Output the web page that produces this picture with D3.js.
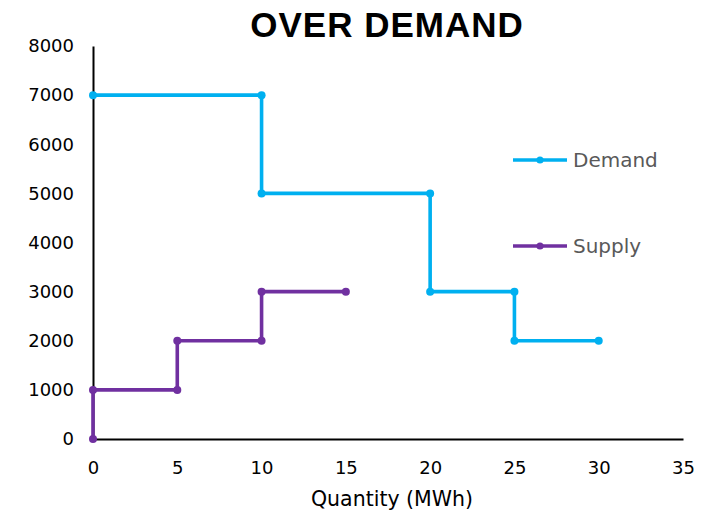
<!DOCTYPE html>
<html><head><meta charset="utf-8">
<script src="https://cdn.jsdelivr.net/npm/d3@7"></script>
<style>body{margin:0;background:#fff}</style>
</head><body>
<svg id="c" width="724" height="513"></svg>
<script>
const demandX = [0, 10, 10, 20, 20, 25, 25, 30];
const demandY = [7000, 7000, 5000, 5000, 3000, 3000, 2000, 2000];
const supplyX = [0, 0, 5, 5, 10, 10, 15];
const supplyY = [0, 1000, 1000, 2000, 2000, 3000, 3000];
const xTicks = [0, 5, 10, 15, 20, 25, 30, 35];
const yTicks = [0, 1000, 2000, 3000, 4000, 5000, 6000, 7000, 8000];
const seriesNames = ["Demand", "Supply"];
const colors = ["#00B0F0", "#7030A0"];

const svg = d3.select("#c");
const x = d3.scaleLinear().domain([0, 35]).range([93, 683]);
const y = d3.scaleLinear().domain([0, 8000]).range([439, 46]);

// title
svg.append("text").attr("x", 387).attr("y", 37).attr("text-anchor", "middle")
  .attr("font-family", "Liberation Sans, Arial, sans-serif").attr("font-weight", "bold")
  .attr("font-size", 35).attr("letter-spacing", 1).attr("fill", "#000").text("OVER DEMAND");

// axes
const xAxis = svg.append("g").attr("transform", `translate(0,${y(0)})`)
  .call(d3.axisBottom(x).tickValues(xTicks).tickFormat(d3.format("d")).tickSize(0).tickPadding(22));
const yAxis = svg.append("g").attr("transform", `translate(${x(0)},0)`)
  .call(d3.axisLeft(y).tickValues(yTicks).tickFormat(d3.format("d")).tickSize(0).tickPadding(19));
[xAxis, yAxis].forEach(a => {
  a.attr("font-size", 18).attr("font-family", "DejaVu Sans, sans-serif");
  a.select(".domain").attr("stroke", "#000").attr("stroke-width", 2);
  a.selectAll("text").style("font-family", "DejaVu Sans, sans-serif").style("font-size", "18px").attr("fill", "#000");
});
xAxis.selectAll("text").attr("dy", "0.71em");

svg.append("text").attr("x", 392).attr("y", 506).attr("text-anchor", "middle")
  .style("font-family", "DejaVu Sans, sans-serif").style("font-size", "20.5px").attr("fill", "#000")
  .text("Quantity (MWh)");

const series = [
  {name: seriesNames[0], xs: demandX, ys: demandY, color: colors[0]},
  {name: seriesNames[1], xs: supplyX, ys: supplyY, color: colors[1]}
];
const line = d3.line().x(d => x(d[0])).y(d => y(d[1]));
series.forEach(s => {
  const pts = s.xs.map((v, i) => [v, s.ys[i]]);
  svg.append("path").datum(pts).attr("d", line).attr("fill", "none")
    .attr("stroke", s.color).attr("stroke-width", 3.6).attr("stroke-linejoin", "round");
  svg.selectAll(null).data(pts).enter().append("circle")
    .attr("cx", d => x(d[0])).attr("cy", d => y(d[1])).attr("r", 4).attr("fill", s.color);
});

// legend
const legY = [160, 246];
series.forEach((s, i) => {
  const g = svg.append("g").attr("transform", `translate(513,${legY[i]})`);
  g.append("line").attr("x1", 0).attr("x2", 54).attr("stroke", s.color).attr("stroke-width", 3.6);
  g.append("circle").attr("cx", 27).attr("r", 3.6).attr("fill", s.color);
  g.append("text").attr("x", 60).attr("dy", "0.36em").style("font-family", "DejaVu Sans, sans-serif")
    .style("font-size", "20px").attr("fill", "#595959").text(s.name);
});
</script>
</body></html>
